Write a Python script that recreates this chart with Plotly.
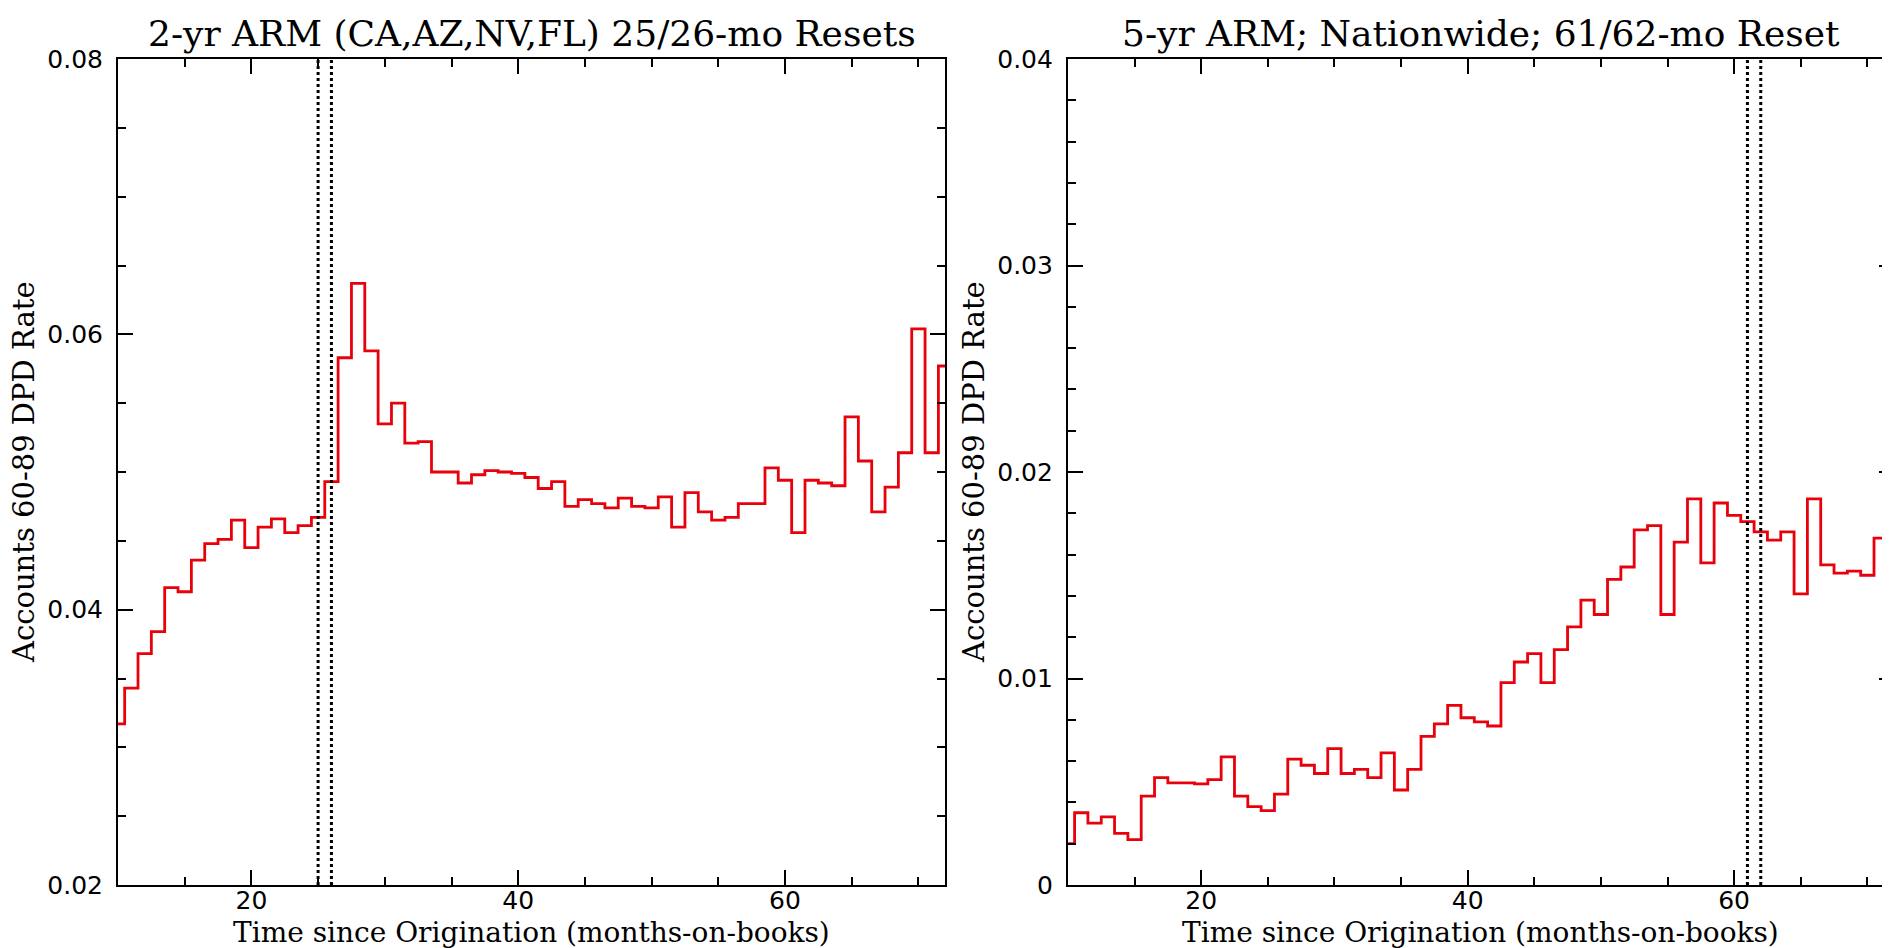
import plotly.graph_objects as go

# ---------------- data ----------------
months = list(range(10, 73))

rate_2yr = [
    0.0317, 0.0343, 0.0368, 0.0384, 0.0416, 0.0413, 0.0436, 0.0448, 0.0451, 0.0465,
    0.0445, 0.0460, 0.0466, 0.0456, 0.0461, 0.0467, 0.0493, 0.0583, 0.0637, 0.0588,
    0.0535, 0.0550, 0.0521, 0.0522, 0.0500, 0.0500, 0.0492, 0.0498, 0.0501, 0.0500,
    0.0499, 0.0496, 0.0488, 0.0493, 0.0475, 0.0480, 0.0477, 0.0474, 0.0481, 0.0475,
    0.0474, 0.0482, 0.0460, 0.0485, 0.0471, 0.0465, 0.0467, 0.0477, 0.0477, 0.0503,
    0.0494, 0.0456, 0.0494, 0.0492, 0.0490, 0.0540, 0.0508, 0.0471, 0.0489, 0.0514,
    0.0604, 0.0514, 0.0577,
]

rate_5yr = [
    0.0020, 0.0035, 0.0030, 0.0033, 0.0025, 0.0022, 0.0043, 0.0052, 0.00495, 0.00495,
    0.0049, 0.0051, 0.0062, 0.0043, 0.0038, 0.0036, 0.0044, 0.0061, 0.0058, 0.0054,
    0.0066, 0.0054, 0.0056, 0.0052, 0.0064, 0.0046, 0.0056, 0.0072, 0.0078, 0.0087,
    0.0081, 0.0079, 0.0077, 0.0098, 0.0108, 0.0112, 0.0098, 0.0114, 0.0125, 0.0138,
    0.0131, 0.0148, 0.0154, 0.0172, 0.0174, 0.0131, 0.0166, 0.0187, 0.0156, 0.0185,
    0.0179, 0.0176, 0.0171, 0.0167, 0.0171, 0.0141, 0.0187, 0.0155, 0.0151, 0.0152,
    0.0150, 0.0168, 0.0179,
]

reset_2yr = [25, 26]
reset_5yr = [61, 62]

title_2yr = "2-yr ARM (CA,AZ,NV,FL) 25/26-mo Resets"
title_5yr = "5-yr ARM; Nationwide; 61/62-mo Reset"
x_title = "Time since Origination (months-on-books)"
y_title = "Accounts 60-89 DPD Rate"

# ---------------- styling ----------------
RED = "#e8000b"
SERIF = "DejaVu Serif"
SANS = "DejaVu Sans"

fig = go.Figure()

fig.add_trace(go.Scatter(x=months, y=rate_2yr, mode="lines", line_shape="hvh",
                         line=dict(color=RED, width=2.8), xaxis="x", yaxis="y",
                         showlegend=False, name="2-yr ARM"))
fig.add_trace(go.Scatter(x=months, y=rate_5yr, mode="lines", line_shape="hvh",
                         line=dict(color=RED, width=2.8), xaxis="x2", yaxis="y2",
                         showlegend=False, name="5-yr ARM"))

for xv in reset_2yr:
    fig.add_shape(type="line", xref="x", yref="y domain", x0=xv, x1=xv, y0=0, y1=1,
                  line=dict(color="black", width=3, dash="dot"))
for xv in reset_5yr:
    fig.add_shape(type="line", xref="x2", yref="y2 domain", x0=xv, x1=xv, y0=0, y1=1,
                  line=dict(color="black", width=3, dash="dot"))

common_axis = dict(
    showline=True, linecolor="black", linewidth=2, mirror="allticks",
    ticks="inside", ticklen=15, tickwidth=1.5, tickcolor="black",
    showgrid=False, zeroline=False,
    tickfont=dict(family=SANS, size=25, color="black"),
)

minor_style = dict(ticks="inside", ticklen=8, tickwidth=1.5, tickcolor="black")

W, H = 1890, 948
L, R, T, B = 110, 2, 51, 71
pw = W - L - R
d1 = (938 - L) / pw
d2 = (1061 - L) / pw

fig.update_layout(
    width=W, height=H,
    margin=dict(l=L, r=R, t=T, b=B),
    paper_bgcolor="white", plot_bgcolor="white",
    xaxis=dict(domain=[0, d1], range=[10, 72], anchor="y", tick0=0, dtick=20,
               minor=dict(dtick=5, tick0=0, **minor_style), ticklabelstandoff=-8,
               **common_axis),
    yaxis=dict(domain=[0, 1], range=[0.02, 0.08], anchor="x", tick0=0, dtick=0.02,
               minor=dict(dtick=0.005, tick0=0, **minor_style), ticklabelstandoff=8,
               **common_axis),
    xaxis2=dict(domain=[d2, 1], range=[10, 72], anchor="y2", tick0=0, dtick=20,
                minor=dict(dtick=5, tick0=0, **minor_style), ticklabelstandoff=-8,
                **common_axis),
    yaxis2=dict(domain=[0, 1], range=[0, 0.04], anchor="x2", tick0=0, dtick=0.01,
                minor=dict(dtick=0.002, tick0=0, **minor_style), ticklabelstandoff=8,
                **common_axis),
)

annots = []
for xr, yr, t in [("x", "y", title_2yr), ("x2", "y2", title_5yr)]:
    annots.append(dict(text=t, xref=f"{xr} domain", yref=f"{yr} domain", x=0.5, y=1,
                       xanchor="center", yanchor="bottom", yshift=3, showarrow=False,
                       font=dict(family=SERIF, size=36, color="black")))
    annots.append(dict(text=x_title, xref=f"{xr} domain", yref=f"{yr} domain", x=0.5, y=0,
                       xanchor="center", yanchor="middle", yshift=-47, showarrow=False,
                       font=dict(family=SERIF, size=28, color="black")))
    annots.append(dict(text=y_title, xref=f"{xr} domain", yref=f"{yr} domain", x=0, y=0.5,
                       xanchor="center", yanchor="middle", xshift=-94, textangle=-90,
                       showarrow=False, font=dict(family=SERIF, size=29, color="black")))
fig.update_layout(annotations=annots)

fig.write_html("out.html")
